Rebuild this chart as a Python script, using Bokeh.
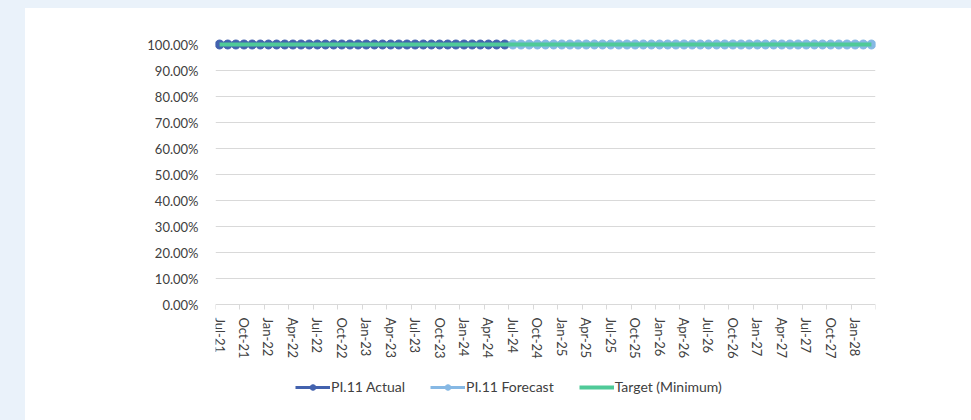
import pandas as pd
from bokeh.plotting import figure
from bokeh.models import (Range1d, FixedTicker, NumeralTickFormatter, Legend, LegendItem,
                          GlobalInlineStyleSheet)
from bokeh.embed import file_html
from bokeh.resources import INLINE

# ---- data ----
months = list(pd.period_range("2021-07", periods=81, freq="M").strftime("%b-%y"))
actual_months = months[:36]          # Jul-21 .. Jun-24
forecast_months = months[36:]        # Jul-24 .. Mar-28
actual_values = [1.00, 1.00, 1.00, 1.00, 1.00, 1.00, 1.00, 1.00, 1.00, 1.00, 1.00, 1.00,
                 1.00, 1.00, 1.00, 1.00, 1.00, 1.00, 1.00, 1.00, 1.00, 1.00, 1.00, 1.00,
                 1.00, 1.00, 1.00, 1.00, 1.00, 1.00, 1.00, 1.00, 1.00, 1.00, 1.00, 1.00]
forecast_values = [1.00, 1.00, 1.00, 1.00, 1.00, 1.00, 1.00, 1.00, 1.00, 1.00, 1.00, 1.00,
                   1.00, 1.00, 1.00, 1.00, 1.00, 1.00, 1.00, 1.00, 1.00, 1.00, 1.00, 1.00,
                   1.00, 1.00, 1.00, 1.00, 1.00, 1.00, 1.00, 1.00, 1.00, 1.00, 1.00, 1.00,
                   1.00, 1.00, 1.00, 1.00, 1.00, 1.00, 1.00, 1.00, 1.00]
target_values = [1.00, 1.00, 1.00, 1.00, 1.00, 1.00, 1.00, 1.00, 1.00,
                 1.00, 1.00, 1.00, 1.00, 1.00, 1.00, 1.00, 1.00, 1.00, 1.00, 1.00, 1.00,
                 1.00, 1.00, 1.00, 1.00, 1.00, 1.00, 1.00, 1.00, 1.00, 1.00, 1.00, 1.00,
                 1.00, 1.00, 1.00, 1.00, 1.00, 1.00, 1.00, 1.00, 1.00, 1.00, 1.00, 1.00,
                 1.00, 1.00, 1.00, 1.00, 1.00, 1.00, 1.00, 1.00, 1.00, 1.00, 1.00, 1.00,
                 1.00, 1.00, 1.00, 1.00, 1.00, 1.00, 1.00, 1.00, 1.00, 1.00, 1.00, 1.00,
                 1.00, 1.00, 1.00, 1.00, 1.00, 1.00, 1.00, 1.00, 1.00, 1.00, 1.00, 1.00]
y_ticks = [0.0, 0.1, 0.2, 0.3, 0.4, 0.5, 0.6, 0.7, 0.8, 0.9, 1.0]
series_names = ["PI.11 Actual", "PI.11 Forecast", "Target (Minimum)"]

idx = {m: i for i, m in enumerate(months)}
actual_x = [idx[m] for m in actual_months]
forecast_x = [idx[m] for m in forecast_months]
target_x = [idx[m] for m in months]

C_ACT = "#4362ae"
C_FC = "#86b8e4"
C_TGT = "#4fca98"
TXT = "#404040"
FONT = "Lato"
FS = "13px"

# frame: left 215, right 875, top 36 (100% at y=44, 0% at y=304), extends to the page bottom
PX_PER_UNIT = 260.0
p = figure(width=971, height=420, output_backend="svg", toolbar_location=None,
           x_range=Range1d(-0.5, len(months) - 0.5),
           y_range=Range1d(-(420 - 304) / PX_PER_UNIT, 1 + 8 / PX_PER_UNIT),
           min_border_left=215, min_border_right=96, min_border_top=36, min_border_bottom=0)
p.border_fill_color = None
p.background_fill_color = "white"
p.outline_line_color = None
p.stylesheets = [GlobalInlineStyleSheet(css=(
    "html{background: linear-gradient(to right, #eaf2fa 25px, rgba(255,255,255,0) 25px),"
    " linear-gradient(to bottom, #eaf2fa 8px, #ffffff 8px);}"))]

# x axis, drawn at the 0% level
xa = p.xaxis[0]
xa.fixed_location = 0
xa.ticker = FixedTicker(ticks=list(range(0, len(months), 3)),
                        minor_ticks=[i - 0.5 for i in range(0, len(months) + 1, 3)])
xa.major_label_overrides = {i: months[i] for i in range(0, len(months), 3)}
xa.major_label_orientation = "vertical"
xa.major_tick_line_color = None
xa.minor_tick_line_color = "#d9d9d9"
xa.minor_tick_in = 0
xa.minor_tick_out = 5
xa.axis_line_color = "#d9d9d9"
xa.major_label_standoff = 7
xa.major_label_text_font = FONT
xa.major_label_text_font_size = FS
xa.major_label_text_color = TXT

# y axis
ya = p.yaxis[0]
ya.ticker = FixedTicker(ticks=y_ticks)
ya.formatter = NumeralTickFormatter(format="0.00%")
ya.axis_line_color = None
ya.major_tick_line_color = None
ya.minor_tick_line_color = None
ya.major_label_standoff = 11
ya.major_label_text_font = FONT
ya.major_label_text_font_size = FS
ya.major_label_text_color = TXT

p.xgrid.grid_line_color = None
p.ygrid.grid_line_color = "#d9d9d9"
p.ygrid.ticker = FixedTicker(ticks=y_ticks[1:])

# series
a_l = p.line(actual_x, actual_values, line_color=C_ACT, line_width=3)
a_s = p.scatter(actual_x, actual_values, size=9, fill_color=C_ACT, line_color=C_ACT)
f_l = p.line(forecast_x, forecast_values, line_color=C_FC, line_width=3)
f_s = p.scatter(forecast_x, forecast_values, size=9, fill_color=C_FC, line_color=C_FC)
t_l = p.line(target_x, target_values, line_color=C_TGT, line_width=4)

legend = Legend(items=[LegendItem(label=series_names[0], renderers=[a_l, a_s]),
                       LegendItem(label=series_names[1], renderers=[f_l, f_s]),
                       LegendItem(label=series_names[2], renderers=[t_l])],
                orientation="horizontal", location=(80, 25),
                border_line_color=None, background_fill_alpha=0,
                label_text_font=FONT, label_text_font_size="14px", label_text_color=TXT,
                glyph_width=35, glyph_height=14, label_standoff=1, spacing=25,
                padding=0, margin=0)
p.add_layout(legend)

open("out.html", "w").write(file_html(p, INLINE))
